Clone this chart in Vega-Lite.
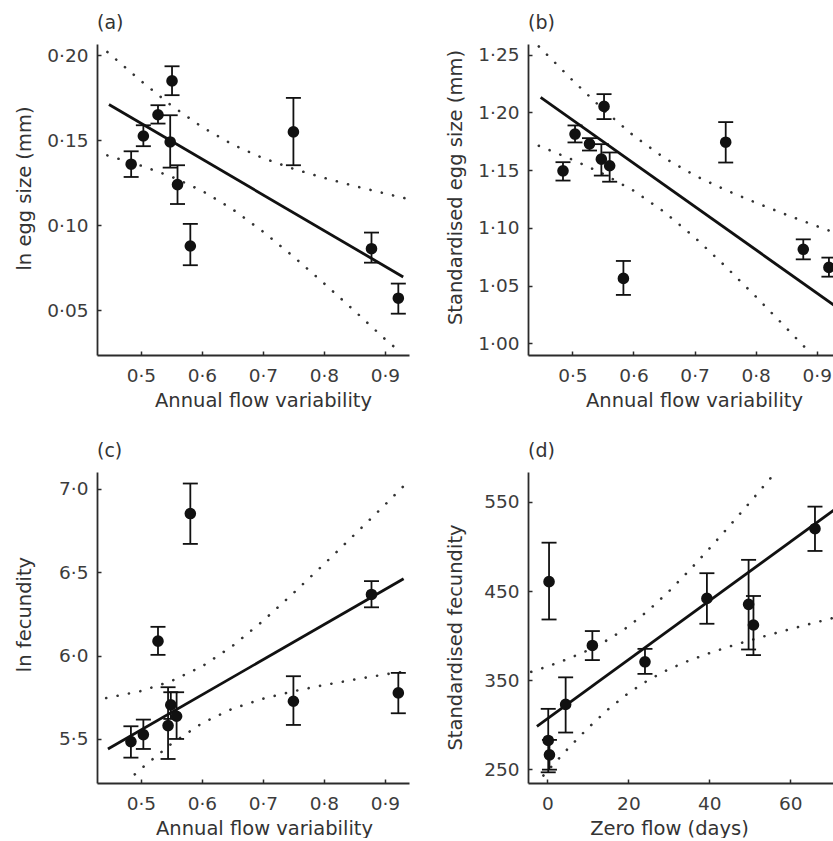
{
  "$schema": "https://vega.github.io/schema/vega-lite/v6.json",
  "background": "white",
  "padding": {"left": 14, "top": 13, "right": 0, "bottom": 0},
  "bounds": "flush",
  "columns": 2,
  "spacing": {"row": 117, "column": 119},
  "config": {
    "font": "DejaVu Sans",
    "view": {"stroke": null},
    "axis": {"grid": false, "domainColor": "#2b2b2b", "domainWidth": 1.8, "tickColor": "#2b2b2b", "tickWidth": 1.5, "tickSize": -4, "labelFontSize": 18.5, "labelColor": "#3c3c3c", "labelOverlap": false, "labelFlush": false, "titleFontSize": 19.5, "titleFontWeight": "normal", "titleColor": "#333333"},
    "axisX": {"labelPadding": 15, "titleBaseline": "top", "titleAlign": "center", "titleY": 36},
    "axisY": {"labelPadding": 13, "titleBaseline": "alphabetic", "titleAlign": "center", "titleAngle": 270, "titleX": -67},
    "title": {"fontSize": 19, "fontWeight": "normal", "color": "#333333", "anchor": "start", "frame": "group", "baseline": "alphabetic", "offset": 11.5}
  },
  "datasets": {
    "a_pts": [
      {"x": 0.484, "y": 0.1359, "lo": 0.1284, "hi": 0.1435},
      {"x": 0.504, "y": 0.1525, "lo": 0.1465, "hi": 0.1588},
      {"x": 0.528, "y": 0.165, "lo": 0.1598, "hi": 0.1706},
      {"x": 0.551, "y": 0.1849, "lo": 0.1765, "hi": 0.1935},
      {"x": 0.548, "y": 0.149, "lo": 0.1339, "hi": 0.1647},
      {"x": 0.56, "y": 0.1239, "lo": 0.1125, "hi": 0.1353},
      {"x": 0.581, "y": 0.0878, "lo": 0.0765, "hi": 0.1008},
      {"x": 0.75, "y": 0.1549, "lo": 0.1353, "hi": 0.1749},
      {"x": 0.878, "y": 0.0862, "lo": 0.078, "hi": 0.0957},
      {"x": 0.922, "y": 0.0571, "lo": 0.048, "hi": 0.0657}
    ],
    "a_fit": [{"x": 0.4476, "y": 0.171}, {"x": 0.93, "y": 0.0696}],
    "a_ci": [
      {"bound": "upper", "x": 0.445, "y": 0.2019}, {"bound": "upper", "x": 0.5, "y": 0.1849}, {"bound": "upper", "x": 0.55, "y": 0.1704}, {"bound": "upper", "x": 0.6, "y": 0.1578}, {"bound": "upper", "x": 0.65, "y": 0.1475}, {"bound": "upper", "x": 0.7, "y": 0.1395}, {"bound": "upper", "x": 0.75, "y": 0.1332}, {"bound": "upper", "x": 0.8, "y": 0.1279}, {"bound": "upper", "x": 0.85, "y": 0.1231}, {"bound": "upper", "x": 0.9, "y": 0.1187}, {"bound": "upper", "x": 0.934, "y": 0.1158},
      {"bound": "lower", "x": 0.445, "y": 0.1411}, {"bound": "lower", "x": 0.5, "y": 0.1351}, {"bound": "lower", "x": 0.55, "y": 0.1286}, {"bound": "lower", "x": 0.6, "y": 0.1203}, {"bound": "lower", "x": 0.65, "y": 0.1095}, {"bound": "lower", "x": 0.7, "y": 0.0963}, {"bound": "lower", "x": 0.75, "y": 0.0816}, {"bound": "lower", "x": 0.8, "y": 0.0659}, {"bound": "lower", "x": 0.85, "y": 0.0497}, {"bound": "lower", "x": 0.9, "y": 0.0331}, {"bound": "lower", "x": 0.925, "y": 0.0255}
    ],
    "b_pts": [
      {"x": 0.4846, "y": 1.1494, "lo": 1.141, "hi": 1.1569},
      {"x": 0.5043, "y": 1.1812, "lo": 1.174, "hi": 1.1887},
      {"x": 0.528, "y": 1.1728, "lo": 1.167, "hi": 1.1777},
      {"x": 0.5518, "y": 1.2052, "lo": 1.1942, "hi": 1.2158},
      {"x": 0.5474, "y": 1.1595, "lo": 1.1453, "hi": 1.1725},
      {"x": 0.561, "y": 1.1538, "lo": 1.14, "hi": 1.1653},
      {"x": 0.5835, "y": 1.0563, "lo": 1.042, "hi": 1.0714},
      {"x": 0.751, "y": 1.1742, "lo": 1.1566, "hi": 1.1916},
      {"x": 0.878, "y": 1.0815, "lo": 1.0728, "hi": 1.0901},
      {"x": 0.92, "y": 1.0658, "lo": 1.0578, "hi": 1.0743}
    ],
    "b_fit": [{"x": 0.448, "y": 1.213}, {"x": 0.93, "y": 1.0325}],
    "b_ci": [
      {"bound": "upper", "x": 0.445, "y": 1.2571}, {"bound": "upper", "x": 0.5, "y": 1.2279}, {"bound": "upper", "x": 0.55, "y": 1.2027}, {"bound": "upper", "x": 0.6, "y": 1.1799}, {"bound": "upper", "x": 0.65, "y": 1.1608}, {"bound": "upper", "x": 0.7, "y": 1.1455}, {"bound": "upper", "x": 0.75, "y": 1.133}, {"bound": "upper", "x": 0.8, "y": 1.1219}, {"bound": "upper", "x": 0.85, "y": 1.1115}, {"bound": "upper", "x": 0.9, "y": 1.1016}, {"bound": "upper", "x": 0.93, "y": 1.0958},
      {"bound": "lower", "x": 0.445, "y": 1.1711}, {"bound": "lower", "x": 0.5, "y": 1.1591}, {"bound": "lower", "x": 0.55, "y": 1.1469}, {"bound": "lower", "x": 0.6, "y": 1.1323}, {"bound": "lower", "x": 0.65, "y": 1.114}, {"bound": "lower", "x": 0.7, "y": 1.0919}, {"bound": "lower", "x": 0.75, "y": 1.067}, {"bound": "lower", "x": 0.8, "y": 1.0407}, {"bound": "lower", "x": 0.85, "y": 1.0135}, {"bound": "lower", "x": 0.89, "y": 0.9915}
    ],
    "c_pts": [
      {"x": 0.4836, "y": 5.484, "lo": 5.388, "hi": 5.576},
      {"x": 0.504, "y": 5.526, "lo": 5.44, "hi": 5.616},
      {"x": 0.528, "y": 6.086, "lo": 6.004, "hi": 6.172},
      {"x": 0.581, "y": 6.851, "lo": 6.669, "hi": 7.031},
      {"x": 0.549, "y": 5.704, "lo": 5.62, "hi": 5.78},
      {"x": 0.5445, "y": 5.58, "lo": 5.38, "hi": 5.81},
      {"x": 0.5585, "y": 5.636, "lo": 5.5, "hi": 5.78},
      {"x": 0.75, "y": 5.726, "lo": 5.584, "hi": 5.876},
      {"x": 0.878, "y": 6.366, "lo": 6.289, "hi": 6.446},
      {"x": 0.922, "y": 5.776, "lo": 5.654, "hi": 5.896}
    ],
    "c_fit": [{"x": 0.4459, "y": 5.44}, {"x": 0.9307, "y": 6.46}],
    "c_ci": [
      {"bound": "upper", "x": 0.443, "y": 5.745}, {"bound": "upper", "x": 0.5, "y": 5.787}, {"bound": "upper", "x": 0.55, "y": 5.847}, {"bound": "upper", "x": 0.6, "y": 5.934}, {"bound": "upper", "x": 0.65, "y": 6.057}, {"bound": "upper", "x": 0.7, "y": 6.207}, {"bound": "upper", "x": 0.75, "y": 6.374}, {"bound": "upper", "x": 0.8, "y": 6.547}, {"bound": "upper", "x": 0.85, "y": 6.724}, {"bound": "upper", "x": 0.9, "y": 6.903}, {"bound": "upper", "x": 0.93, "y": 7.013},
      {"bound": "lower", "x": 0.49, "y": 5.288}, {"bound": "lower", "x": 0.5, "y": 5.321}, {"bound": "lower", "x": 0.55, "y": 5.471}, {"bound": "lower", "x": 0.6, "y": 5.594}, {"bound": "lower", "x": 0.65, "y": 5.681}, {"bound": "lower", "x": 0.7, "y": 5.741}, {"bound": "lower", "x": 0.75, "y": 5.786}, {"bound": "lower", "x": 0.8, "y": 5.823}, {"bound": "lower", "x": 0.85, "y": 5.856}, {"bound": "lower", "x": 0.9, "y": 5.887}, {"bound": "lower", "x": 0.925, "y": 5.9}
    ],
    "d_pts": [
      {"x": 0.4, "y": 460.5, "lo": 418, "hi": 504.3},
      {"x": 0.2, "y": 282.1, "lo": 246.3, "hi": 317.6},
      {"x": 0.5, "y": 265.9, "lo": 249.3, "hi": 282.7},
      {"x": 4.5, "y": 322.6, "lo": 291, "hi": 353},
      {"x": 11.1, "y": 388.8, "lo": 372.4, "hi": 405},
      {"x": 24.1, "y": 370.5, "lo": 356.9, "hi": 385},
      {"x": 39.4, "y": 441.7, "lo": 413.2, "hi": 470},
      {"x": 49.7, "y": 435, "lo": 384.3, "hi": 485},
      {"x": 50.9, "y": 411.8, "lo": 378, "hi": 444.4},
      {"x": 66.1, "y": 520, "lo": 495, "hi": 544.8}
    ],
    "d_fit": [{"x": -2.6, "y": 297.9}, {"x": 70.8, "y": 540.9}],
    "d_ci": [
      {"bound": "upper", "x": -4, "y": 359.2}, {"bound": "upper", "x": 0, "y": 365.2}, {"bound": "upper", "x": 5, "y": 373.6}, {"bound": "upper", "x": 10, "y": 383.3}, {"bound": "upper", "x": 15, "y": 395.3}, {"bound": "upper", "x": 20, "y": 410.1}, {"bound": "upper", "x": 25, "y": 428.4}, {"bound": "upper", "x": 30, "y": 449.5}, {"bound": "upper", "x": 35, "y": 472.9}, {"bound": "upper", "x": 40, "y": 497.6}, {"bound": "upper", "x": 45, "y": 523.3}, {"bound": "upper", "x": 50, "y": 549.5}, {"bound": "upper", "x": 56, "y": 581.5},
      {"bound": "lower", "x": -1, "y": 242.7}, {"bound": "lower", "x": 0, "y": 247.8}, {"bound": "lower", "x": 5, "y": 272.6}, {"bound": "lower", "x": 10, "y": 295.9}, {"bound": "lower", "x": 15, "y": 317.1}, {"bound": "lower", "x": 20, "y": 335.3}, {"bound": "lower", "x": 25, "y": 350.2}, {"bound": "lower", "x": 30, "y": 362.1}, {"bound": "lower", "x": 35, "y": 371.9}, {"bound": "lower", "x": 40, "y": 380.2}, {"bound": "lower", "x": 45, "y": 387.7}, {"bound": "lower", "x": 50, "y": 394.5}, {"bound": "lower", "x": 55, "y": 401.0}, {"bound": "lower", "x": 60, "y": 407.2}, {"bound": "lower", "x": 65, "y": 413.2}, {"bound": "lower", "x": 71, "y": 420.2}
    ]
  },
  "concat": [
    {
      "width": 312, "height": 311,
      "title": {"text": "(a)"},
      "layer": [
        {"data": {"name": "a_ci"}, "mark": {"type": "line", "strokeDash": [0.1, 11.5], "strokeCap": "round", "strokeWidth": 2.6, "color": "#333333", "clip": true},
         "encoding": {
           "x": {"field": "x", "type": "quantitative", "scale": {"domain": [0.428, 0.9395], "nice": false, "zero": false}, "axis": {"title": "Annual flow variability", "values": [0.5, 0.6, 0.7, 0.8, 0.9], "labelExpr": "replace(format(datum.value, '.1f'), '.', '·')", "titleX": 166}},
           "y": {"field": "y", "type": "quantitative", "scale": {"domain": [0.0237, 0.2066], "nice": false, "zero": false}, "axis": {"title": "ln egg size (mm)", "values": [0.05, 0.1, 0.15, 0.2], "labelExpr": "replace(format(datum.value, '.2f'), '.', '·')", "titleY": 144}},
           "detail": {"field": "bound", "type": "nominal"}}},
        {"data": {"name": "a_fit"}, "mark": {"type": "line", "strokeWidth": 2.8, "color": "#111111", "clip": true},
         "encoding": {"x": {"field": "x", "type": "quantitative"}, "y": {"field": "y", "type": "quantitative"}}},
        {"data": {"name": "a_pts"}, "mark": {"type": "rule", "strokeWidth": 1.8, "color": "#111111", "clip": true},
         "encoding": {"x": {"field": "x", "type": "quantitative"}, "y": {"field": "lo", "type": "quantitative"}, "y2": {"field": "hi"}}},
        {"data": {"name": "a_pts"}, "mark": {"type": "tick", "orient": "horizontal", "size": 15, "thickness": 1.8, "color": "#111111", "opacity": 1, "clip": true},
         "encoding": {"x": {"field": "x", "type": "quantitative"}, "y": {"field": "lo", "type": "quantitative"}}},
        {"data": {"name": "a_pts"}, "mark": {"type": "tick", "orient": "horizontal", "size": 15, "thickness": 1.8, "color": "#111111", "opacity": 1, "clip": true},
         "encoding": {"x": {"field": "x", "type": "quantitative"}, "y": {"field": "hi", "type": "quantitative"}}},
        {"data": {"name": "a_pts"}, "mark": {"type": "point", "filled": true, "size": 135, "color": "#111111", "opacity": 1, "clip": true},
         "encoding": {"x": {"field": "x", "type": "quantitative"}, "y": {"field": "y", "type": "quantitative"}}}
      ]
    },
    {
      "width": 306, "height": 311,
      "title": {"text": "(b)"},
      "layer": [
        {"data": {"name": "b_ci"}, "mark": {"type": "line", "strokeDash": [0.1, 11.5], "strokeCap": "round", "strokeWidth": 2.6, "color": "#333333", "clip": true},
         "encoding": {
           "x": {"field": "x", "type": "quantitative", "scale": {"domain": [0.4273, 0.9283], "nice": false, "zero": false}, "axis": {"title": "Annual flow variability", "values": [0.5, 0.6, 0.7, 0.8, 0.9], "labelExpr": "replace(format(datum.value, '.1f'), '.', '·')", "titleX": 166}},
           "y": {"field": "y", "type": "quantitative", "scale": {"domain": [0.99, 1.2592], "nice": false, "zero": false}, "axis": {"title": "Standardised egg size (mm)", "values": [1.0, 1.05, 1.1, 1.15, 1.2, 1.25], "labelExpr": "replace(format(datum.value, '.2f'), '.', '·')", "titleY": 143}},
           "detail": {"field": "bound", "type": "nominal"}}},
        {"data": {"name": "b_fit"}, "mark": {"type": "line", "strokeWidth": 2.8, "color": "#111111", "clip": true},
         "encoding": {"x": {"field": "x", "type": "quantitative"}, "y": {"field": "y", "type": "quantitative"}}},
        {"data": {"name": "b_pts"}, "mark": {"type": "rule", "strokeWidth": 1.8, "color": "#111111", "clip": true},
         "encoding": {"x": {"field": "x", "type": "quantitative"}, "y": {"field": "lo", "type": "quantitative"}, "y2": {"field": "hi"}}},
        {"data": {"name": "b_pts"}, "mark": {"type": "tick", "orient": "horizontal", "size": 15, "thickness": 1.8, "color": "#111111", "opacity": 1, "clip": true},
         "encoding": {"x": {"field": "x", "type": "quantitative"}, "y": {"field": "lo", "type": "quantitative"}}},
        {"data": {"name": "b_pts"}, "mark": {"type": "tick", "orient": "horizontal", "size": 15, "thickness": 1.8, "color": "#111111", "opacity": 1, "clip": true},
         "encoding": {"x": {"field": "x", "type": "quantitative"}, "y": {"field": "hi", "type": "quantitative"}}},
        {"data": {"name": "b_pts"}, "mark": {"type": "point", "filled": true, "size": 135, "color": "#111111", "opacity": 1, "clip": true},
         "encoding": {"x": {"field": "x", "type": "quantitative"}, "y": {"field": "y", "type": "quantitative"}}}
      ]
    },
    {
      "width": 312, "height": 311,
      "title": {"text": "(c)"},
      "layer": [
        {"data": {"name": "c_ci"}, "mark": {"type": "line", "strokeDash": [0.1, 11.5], "strokeCap": "round", "strokeWidth": 2.6, "color": "#333333", "clip": true},
         "encoding": {
           "x": {"field": "x", "type": "quantitative", "scale": {"domain": [0.428, 0.9395], "nice": false, "zero": false}, "axis": {"title": "Annual flow variability", "values": [0.5, 0.6, 0.7, 0.8, 0.9], "labelExpr": "replace(format(datum.value, '.1f'), '.', '·')", "titleX": 167}},
           "y": {"field": "y", "type": "quantitative", "scale": {"domain": [5.236, 7.1], "nice": false, "zero": false}, "axis": {"title": "ln fecundity", "values": [5.5, 6.0, 6.5, 7.0], "labelExpr": "replace(format(datum.value, '.1f'), '.', '·')", "titleY": 142}},
           "detail": {"field": "bound", "type": "nominal"}}},
        {"data": {"name": "c_fit"}, "mark": {"type": "line", "strokeWidth": 2.8, "color": "#111111", "clip": true},
         "encoding": {"x": {"field": "x", "type": "quantitative"}, "y": {"field": "y", "type": "quantitative"}}},
        {"data": {"name": "c_pts"}, "mark": {"type": "rule", "strokeWidth": 1.8, "color": "#111111", "clip": true},
         "encoding": {"x": {"field": "x", "type": "quantitative"}, "y": {"field": "lo", "type": "quantitative"}, "y2": {"field": "hi"}}},
        {"data": {"name": "c_pts"}, "mark": {"type": "tick", "orient": "horizontal", "size": 15, "thickness": 1.8, "color": "#111111", "opacity": 1, "clip": true},
         "encoding": {"x": {"field": "x", "type": "quantitative"}, "y": {"field": "lo", "type": "quantitative"}}},
        {"data": {"name": "c_pts"}, "mark": {"type": "tick", "orient": "horizontal", "size": 15, "thickness": 1.8, "color": "#111111", "opacity": 1, "clip": true},
         "encoding": {"x": {"field": "x", "type": "quantitative"}, "y": {"field": "hi", "type": "quantitative"}}},
        {"data": {"name": "c_pts"}, "mark": {"type": "point", "filled": true, "size": 135, "color": "#111111", "opacity": 1, "clip": true},
         "encoding": {"x": {"field": "x", "type": "quantitative"}, "y": {"field": "y", "type": "quantitative"}}}
      ]
    },
    {
      "width": 306, "height": 311,
      "title": {"text": "(d)"},
      "layer": [
        {"data": {"name": "d_ci"}, "mark": {"type": "line", "strokeDash": [0.1, 11.5], "strokeCap": "round", "strokeWidth": 2.6, "color": "#333333", "clip": true},
         "encoding": {
           "x": {"field": "x", "type": "quantitative", "scale": {"domain": [-4.8, 70.8], "nice": false, "zero": false}, "axis": {"title": "Zero flow (days)", "values": [0, 20, 40, 60], "titleX": 141}},
           "y": {"field": "y", "type": "quantitative", "scale": {"domain": [234.3, 583.7], "nice": false, "zero": false}, "axis": {"title": "Standardised fecundity", "values": [250, 350, 450, 550], "titleY": 165}},
           "detail": {"field": "bound", "type": "nominal"}}},
        {"data": {"name": "d_fit"}, "mark": {"type": "line", "strokeWidth": 2.8, "color": "#111111", "clip": true},
         "encoding": {"x": {"field": "x", "type": "quantitative"}, "y": {"field": "y", "type": "quantitative"}}},
        {"data": {"name": "d_pts"}, "mark": {"type": "rule", "strokeWidth": 1.8, "color": "#111111", "clip": true},
         "encoding": {"x": {"field": "x", "type": "quantitative"}, "y": {"field": "lo", "type": "quantitative"}, "y2": {"field": "hi"}}},
        {"data": {"name": "d_pts"}, "mark": {"type": "tick", "orient": "horizontal", "size": 15, "thickness": 1.8, "color": "#111111", "opacity": 1, "clip": true},
         "encoding": {"x": {"field": "x", "type": "quantitative"}, "y": {"field": "lo", "type": "quantitative"}}},
        {"data": {"name": "d_pts"}, "mark": {"type": "tick", "orient": "horizontal", "size": 15, "thickness": 1.8, "color": "#111111", "opacity": 1, "clip": true},
         "encoding": {"x": {"field": "x", "type": "quantitative"}, "y": {"field": "hi", "type": "quantitative"}}},
        {"data": {"name": "d_pts"}, "mark": {"type": "point", "filled": true, "size": 135, "color": "#111111", "opacity": 1, "clip": true},
         "encoding": {"x": {"field": "x", "type": "quantitative"}, "y": {"field": "y", "type": "quantitative"}}}
      ]
    }
  ]
}
